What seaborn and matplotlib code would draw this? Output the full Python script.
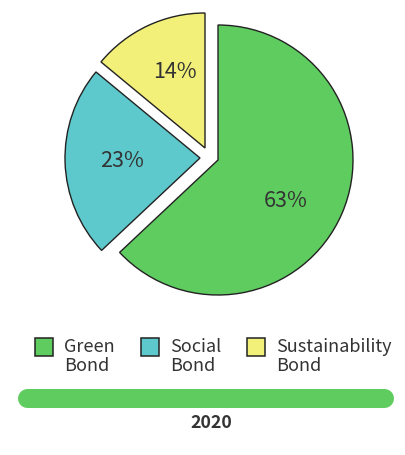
import matplotlib
matplotlib.use("Agg")
import matplotlib.pyplot as plt
import seaborn as sns
from matplotlib.patches import Rectangle

categories = ["Green\nBond", "Social\nBond", "Sustainability\nBond"]
shares = [63, 23, 14]
colors = ["#5fcc60", "#5ec9cc", "#f3f07a"]
year_label = "2020"

sns.set_theme(style="white")
plt.rcParams["font.family"] = ["Noto Sans CJK KR", "DejaVu Sans"]

W, H = 405, 455
fig = plt.figure(figsize=(W / 100, H / 100), dpi=100)
ax = fig.add_axes([0, 0, 1, 1])

# pie in pixel-like data units (y up)
cx, cy = 218, H - 160
wedges, texts, autotexts = ax.pie(
    shares,
    colors=colors,
    startangle=90,
    counterclock=False,
    center=(cx, cy),
    radius=135,
    autopct="%d%%",
    pctdistance=0.6,
    wedgeprops=dict(edgecolor="#222222", linewidth=1.0),
    textprops=dict(fontsize=15.5, color="#333333"),
)

# pull the two small slices away from the big one, nudge labels a bit
pull = [(0, 0), (-18, 2), (-13, 12)]
label_nudge = [(-7, -9), (3, 0), (4, 3)]
for w, t, (dx, dy), (nx, ny) in zip(wedges, autotexts, pull, label_nudge):
    w.set_center((cx + dx, cy + dy))
    x, y = t.get_position()
    t.set_position((x + dx + nx, y + dy + ny))

ax.set_xlim(0, W)
ax.set_ylim(0, H)
ax.set_aspect("auto")
ax.axis("off")

# legend drawn by hand
leg_x = [35, 141, 247]
for x, lab, c in zip(leg_x, categories, colors):
    ax.add_patch(Rectangle((x, H - 356), 18, 18, facecolor=c,
                           edgecolor="#222222", linewidth=1.1))
    ax.text(x + 29, H - 338, lab, fontsize=13, color="#333333",
            va="top", ha="left", linespacing=1.05)

# year bar
ax.plot([27, 384], [H - 397.5, H - 397.5], color=colors[0], lw=13.7,
        solid_capstyle="round")
ax.text(211, H - 423, year_label, fontsize=12.8, fontweight="bold",
        color="#333333", ha="center", va="center")

fig.savefig("out.png", dpi=100)
